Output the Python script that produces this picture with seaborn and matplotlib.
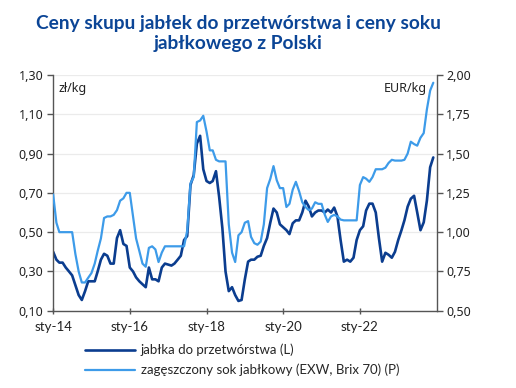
import matplotlib
matplotlib.use("Agg")
import matplotlib.pyplot as plt
import seaborn as sns
import pandas as pd
import numpy as np
from matplotlib.ticker import FixedLocator, FuncFormatter

# ---- data ----
apples = [0.40, 0.36, 0.345, 0.345, 0.32, 0.30, 0.28, 0.23, 0.18, 0.155,
          0.20, 0.25, 0.25, 0.25, 0.30, 0.36, 0.39, 0.38, 0.34, 0.34,
          0.47, 0.51, 0.44, 0.43, 0.32, 0.30, 0.27, 0.25, 0.235, 0.22,
          0.32, 0.26, 0.26, 0.25, 0.32, 0.34, 0.335, 0.33, 0.34, 0.36,
          0.38, 0.46, 0.48, 0.74, 0.79, 0.95, 0.99, 0.82, 0.76, 0.75,
          0.76, 0.81, 0.68, 0.52, 0.30, 0.20, 0.22, 0.18, 0.15, 0.155,
          0.26, 0.35, 0.36, 0.36, 0.375, 0.38, 0.43, 0.47, 0.55, 0.62,
          0.60, 0.54, 0.525, 0.51, 0.49, 0.545, 0.56, 0.56, 0.60, 0.66,
          0.63, 0.58, 0.60, 0.61, 0.61, 0.60, 0.615, 0.60, 0.625, 0.58,
          0.46, 0.35, 0.36, 0.35, 0.37, 0.46, 0.51, 0.53, 0.61, 0.645,
          0.645, 0.60, 0.47, 0.35, 0.395, 0.385, 0.37, 0.40, 0.46, 0.51,
          0.56, 0.63, 0.67, 0.685, 0.60, 0.51, 0.55, 0.66, 0.83, 0.88]

juice = [1.24, 1.06, 1.00, 1.00, 1.00, 1.00, 1.00, 0.86, 0.75, 0.68,
         0.68, 0.71, 0.74, 0.80, 0.88, 0.96, 1.09, 1.10, 1.10, 1.11,
         1.14, 1.20, 1.215, 1.25, 1.25, 1.10, 0.96, 0.88, 0.80, 0.78,
         0.90, 0.91, 0.89, 0.81, 0.87, 0.91, 0.91, 0.91, 0.91, 0.91,
         0.91, 0.91, 1.01, 1.31, 1.35, 1.70, 1.71, 1.74, 1.64, 1.52,
         1.52, 1.46, 1.45, 1.45, 1.45, 1.05, 0.87, 0.81, 0.98, 1.00,
         1.06, 1.07, 0.97, 0.93, 0.92, 0.94, 1.05, 1.28, 1.34, 1.42,
         1.33, 1.28, 1.28, 1.16, 1.18, 1.27, 1.32, 1.26, 1.19, 1.16,
         1.14, 1.15, 1.19, 1.18, 1.18, 1.11, 1.065, 1.10, 1.11, 1.10,
         1.08, 1.075, 1.075, 1.075, 1.075, 1.075, 1.30, 1.35, 1.34, 1.32,
         1.35, 1.40, 1.40, 1.40, 1.41, 1.44, 1.46, 1.455, 1.455, 1.455,
         1.46, 1.50, 1.575, 1.56, 1.55, 1.60, 1.63, 1.78, 1.90, 1.95]

start_month = "2014-01-01"
xtick_dates = ["2014-01-01", "2016-01-01", "2018-01-01", "2020-01-01", "2022-01-01"]
xtick_labels = ["sty-14", "sty-16", "sty-18", "sty-20", "sty-22"]
left_ticks = [0.10, 0.30, 0.50, 0.70, 0.90, 1.10, 1.30]
right_ticks = [0.50, 0.75, 1.00, 1.25, 1.50, 1.75, 2.00]
label_apples = "jabłka do przetwórstwa (L)"
label_juice = "zagęszczony sok jabłkowy (EXW, Brix 70) (P)"
title = "Ceny skupu jabłek do przetwórstwa i ceny soku\njabłkowego z Polski"

dates = pd.date_range(start_month, periods=len(apples), freq="MS")
df = pd.DataFrame({"date": dates, "apples": apples, "juice": juice})

# ---- style ----
sns.set_theme(style="white")
plt.rcParams["font.family"] = ["Noto Sans", "DejaVu Sans"]

DARK = "#0b3d8f"
LIGHT = "#3d9be9"
AXC = "#555555"
TXT = "#222222"

fig = plt.figure(figsize=(5.16, 3.88), dpi=100)
ax = fig.add_axes([0.103, 0.199, 0.743, 0.608])
ax2 = ax.twinx()

sns.lineplot(data=df, x="date", y="apples", ax=ax, color=DARK, lw=1.9,
             label=label_apples, legend=False)
sns.lineplot(data=df, x="date", y="juice", ax=ax2, color=LIGHT, lw=1.6,
             label=label_juice, legend=False)

ax.set_xlim(pd.Timestamp("2014-01-01"), pd.Timestamp("2024-01-01"))
ax.set_ylim(0.10, 1.30)
ax2.set_ylim(0.50, 2.00)

ax.yaxis.set_major_locator(FixedLocator(left_ticks))
ax2.yaxis.set_major_locator(FixedLocator(right_ticks))
fmt = FuncFormatter(lambda v, p: f"{v:.2f}".replace(".", ","))
ax.yaxis.set_major_formatter(fmt)
ax2.yaxis.set_major_formatter(fmt)

ax.set_xticks([pd.Timestamp(d) for d in xtick_dates])
ax.set_xticklabels(xtick_labels, family=["Lato", "DejaVu Sans"], fontsize=9.5, color=TXT)

ax.grid(axis="y", color="#ebebeb", lw=0.9)
ax.set_axisbelow(True)
ax.set_xlabel("")
ax.set_ylabel("")
ax2.set_ylabel("")

for a in (ax, ax2):
    a.spines["top"].set_visible(False)
    for s in ("left", "right", "bottom"):
        a.spines[s].set_color(AXC)
        a.spines[s].set_linewidth(1.0)
ax.spines["right"].set_visible(False)
ax2.spines["left"].set_visible(False)
ax2.spines["bottom"].set_visible(False)

ax.tick_params(axis="y", which="major", left=True, direction="out", length=4,
               width=1, color=AXC, labelsize=9, labelcolor=TXT, pad=3)
ax2.tick_params(axis="y", which="major", right=True, direction="out", length=4,
                width=1, color=AXC, labelsize=9, labelcolor=TXT, pad=3)
ax.tick_params(axis="x", which="major", bottom=True, direction="inout", length=5,
               width=1, color=AXC, pad=5)

ax.text(0.015, 0.97, "zł/kg", transform=ax.transAxes, ha="left", va="top",
        fontsize=9, color=TXT)
ax2.text(0.975, 0.97, "EUR/kg", transform=ax.transAxes, ha="right", va="top",
         fontsize=9, color=TXT)

fig.text(0.462, 0.962, title, ha="center", va="top", fontsize=13.8,
         fontweight="bold", color="#0b4596", family=["Lato", "DejaVu Sans"],
         linespacing=1.25)

h1, l1 = ax.get_legend_handles_labels()
h2, l2 = ax2.get_legend_handles_labels()
fig.legend(h1 + h2, l1 + l2, loc="upper left", bbox_to_anchor=(0.165, 0.114),
           frameon=False, handlelength=3.8, handletextpad=0.4,
           labelspacing=0.55, borderaxespad=0, borderpad=0,
           prop={"family": ["Lato", "DejaVu Sans"], "size": 9.5})

fig.savefig("out.png", dpi=100)
